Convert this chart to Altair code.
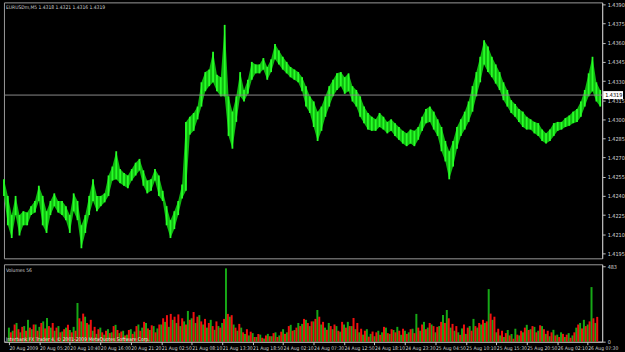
import altair as alt
import pandas as pd

# ---- data (EURUSDm, M5) ----
high = [1.4253, 1.4240, 1.4225, 1.4240, 1.4225, 1.4228, 1.4227, 1.4232, 1.4236, 1.4248,
        1.4240, 1.4228, 1.4236, 1.4242, 1.4236, 1.4236, 1.4232, 1.4225, 1.4242, 1.4236,
        1.4217, 1.4225, 1.4240, 1.4253, 1.4240, 1.4240, 1.4242, 1.4256, 1.4263, 1.4275,
        1.4261, 1.4258, 1.4256, 1.4261, 1.4266, 1.4269, 1.4260, 1.4252, 1.4253, 1.4261,
        1.4256, 1.4244, 1.4232, 1.4221, 1.4228, 1.4236, 1.4249, 1.4298, 1.4302, 1.4305,
        1.4310, 1.4329, 1.4337, 1.4339, 1.4353, 1.4335, 1.4333, 1.4374, 1.4318, 1.4306,
        1.4318, 1.4337, 1.4323, 1.4331, 1.4345, 1.4343, 1.4343, 1.4348, 1.4341, 1.4347,
        1.4359, 1.4354, 1.4349, 1.4345, 1.4341, 1.4339, 1.4337, 1.4333, 1.4326, 1.4318,
        1.4314, 1.4306, 1.4310, 1.4318, 1.4326, 1.4331, 1.4336, 1.4337, 1.4333, 1.4336,
        1.4326, 1.4323, 1.4318, 1.4310, 1.4305, 1.4302, 1.4300, 1.4305, 1.4302, 1.4298,
        1.4300, 1.4297, 1.4294, 1.4291, 1.4289, 1.4292, 1.4291, 1.4294, 1.4302, 1.4308,
        1.4310, 1.4306, 1.4300, 1.4294, 1.4283, 1.4275, 1.4283, 1.4294, 1.4300, 1.4306,
        1.4314, 1.4326, 1.4337, 1.4349, 1.4362, 1.4357, 1.4349, 1.4343, 1.4337, 1.4329,
        1.4323, 1.4315, 1.4312, 1.4308, 1.4306, 1.4302, 1.4300, 1.4298, 1.4297, 1.4292,
        1.4289, 1.4292, 1.4297, 1.4298, 1.4298, 1.4301, 1.4303, 1.4306, 1.4308, 1.4314,
        1.4323, 1.4336, 1.4349, 1.4329, 1.4323]
low = [1.4240, 1.4217, 1.4207, 1.4225, 1.4209, 1.4217, 1.4217, 1.4225, 1.4227, 1.4236,
       1.4217, 1.4211, 1.4225, 1.4232, 1.4227, 1.4225, 1.4221, 1.4211, 1.4228, 1.4221,
       1.4199, 1.4211, 1.4225, 1.4236, 1.4228, 1.4232, 1.4235, 1.4240, 1.4252, 1.4253,
       1.4250, 1.4248, 1.4246, 1.4252, 1.4256, 1.4260, 1.4248, 1.4242, 1.4244, 1.4252,
       1.4240, 1.4236, 1.4217, 1.4207, 1.4214, 1.4225, 1.4238, 1.4244, 1.4288, 1.4291,
       1.4300, 1.4310, 1.4322, 1.4326, 1.4329, 1.4322, 1.4318, 1.4318, 1.4287, 1.4277,
       1.4298, 1.4318, 1.4314, 1.4320, 1.4331, 1.4336, 1.4336, 1.4339, 1.4331, 1.4337,
       1.4347, 1.4343, 1.4339, 1.4336, 1.4333, 1.4331, 1.4329, 1.4322, 1.4310, 1.4305,
       1.4294, 1.4283, 1.4291, 1.4302, 1.4310, 1.4318, 1.4323, 1.4326, 1.4320, 1.4322,
       1.4314, 1.4310, 1.4302, 1.4297, 1.4292, 1.4291, 1.4291, 1.4294, 1.4292, 1.4289,
       1.4291, 1.4287, 1.4284, 1.4281, 1.4279, 1.4281, 1.4279, 1.4284, 1.4291, 1.4297,
       1.4298, 1.4292, 1.4287, 1.4275, 1.4267, 1.4253, 1.4263, 1.4277, 1.4287, 1.4292,
       1.4298, 1.4306, 1.4318, 1.4329, 1.4343, 1.4337, 1.4333, 1.4328, 1.4323, 1.4315,
       1.4310, 1.4305, 1.4302, 1.4298, 1.4294, 1.4292, 1.4292, 1.4289, 1.4287, 1.4283,
       1.4281, 1.4283, 1.4287, 1.4291, 1.4292, 1.4294, 1.4295, 1.4297, 1.4298, 1.4302,
       1.4310, 1.4318, 1.4322, 1.4314, 1.4310]
vol_up = [90, 70, 120, 60, 100, 140, 80, 110, 95, 130, 152, 90, 70, 100, 65, 90, 75, 95, 248, 130,
          160, 110, 70, 50, 90, 45, 80, 60, 108, 55, 70, 45, 80, 65, 110, 90, 120, 75, 100, 85,
          110, 127, 95, 140, 120, 100, 130, 197, 150, 120, 170, 110, 90, 140, 76, 100, 120, 470, 160, 110,
          70, 90, 50, 40, 55, 30, 45, 20, 50, 35, 60, 40, 80, 60, 108, 75, 120, 114, 140, 100,
          130, 203, 110, 90, 120, 80, 100, 64, 110, 127, 100, 80, 60, 45, 80, 50, 35, 70, 60, 90,
          50, 75, 95, 44, 70, 60, 83, 178, 70, 127, 90, 110, 60, 100, 171, 203, 90, 70, 60, 85,
          50, 100, 146, 90, 110, 120, 337, 140, 60, 40, 30, 75, 50, 83, 40, 60, 108, 80, 95, 70,
          100, 50, 35, 76, 45, 60, 30, 55, 40, 90, 120, 140, 110, 350, 120]
vol_down = [60, 110, 80, 95, 70, 90, 110, 70, 120, 85, 100, 120, 90, 60, 80, 108, 60, 70, 150, 180,
            120, 140, 95, 80, 60, 70, 55, 100, 75, 65, 40, 75, 50, 100, 70, 127, 85, 105, 60, 110,
            150, 170, 178, 160, 175, 150, 110, 140, 190, 160, 130, 146, 120, 100, 130, 90, 146, 178, 170, 90,
            114, 60, 80, 64, 30, 50, 25, 40, 35, 55, 30, 64, 50, 100, 70, 90, 100, 146, 120, 130,
            146, 160, 127, 76, 100, 110, 70, 127, 90, 100, 152, 120, 83, 70, 32, 65, 60, 44, 95, 55,
            80, 60, 70, 83, 50, 80, 55, 90, 110, 80, 120, 100, 95, 127, 120, 150, 114, 100, 44, 110,
            90, 70, 100, 120, 140, 130, 180, 160, 83, 70, 55, 40, 19, 45, 70, 90, 75, 100, 60, 105,
            80, 70, 60, 40, 30, 50, 45, 25, 60, 110, 85, 100, 130, 150, 159]
time_labels = ["20 Aug 2009", "20 Aug 05:20", "20 Aug 10:40", "20 Aug 16:00", "20 Aug 21:20",
               "21 Aug 02:50", "21 Aug 08:10", "21 Aug 13:30", "21 Aug 18:50", "24 Aug 02:10",
               "24 Aug 07:30", "24 Aug 12:50", "24 Aug 18:10", "24 Aug 23:30", "25 Aug 04:50",
               "25 Aug 10:10", "25 Aug 15:30", "25 Aug 20:50", "26 Aug 02:10", "26 Aug 07:30"]
price_ticks = [1.4195, 1.4210, 1.4225, 1.4240, 1.4255, 1.4270, 1.4285, 1.4300, 1.4315,
               1.4330, 1.4345, 1.4360, 1.4375, 1.4390]
vol_ticks = [0, 483]
last_price = 1.4319
header = "EURUSDm,M5  1.4318 1.4321 1.4316 1.4319"
vol_title = "Volumes 56"
copyright_text = "Interbank FX Trader 4, \u00a9 2001-2009 MetaQuotes Software Corp."

BARS_PER_SLOT = 8
LABEL_STEP = 64
N_BARS = 1236

# ---- tables ----
price_df = pd.DataFrame({"bar": [i * BARS_PER_SLOT for i in range(len(high))],
                         "high": high, "low": low})
vol_df = pd.DataFrame({
    "bar": [i * BARS_PER_SLOT for i in range(len(vol_up))] +
           [i * BARS_PER_SLOT + BARS_PER_SLOT // 2 for i in range(len(vol_down))],
    "vol": vol_up + vol_down,
    "dir": ["up"] * len(vol_up) + ["down"] * len(vol_down),
})

FONT = "DejaVu Sans Condensed, Liberation Sans Narrow, DejaVu Sans, sans-serif"
FS = 5.5
FS_SMALL = 5
PLOT_W = 603
xscale = alt.Scale(domain=[0, N_BARS], nice=False, zero=False)
pscale = alt.Scale(domain=[1.41911, 1.43916], nice=False, zero=False)
vscale = alt.Scale(domain=[0, 496], nice=False, zero=True)

PAXIS = alt.Axis(orient="right", values=price_ticks, format=".4f", tickSize=3,
                 labelPadding=2, labelFontSize=FS, labelFont=FONT,
                 labelOverlap=False, grid=False, title=None)


def py(field):
    return alt.Y(field, scale=pscale, axis=PAXIS, title=None)


price_area = alt.Chart(price_df).mark_area(color="#10b810", opacity=1,
                                           interpolate="linear").encode(
    x=alt.X("bar:Q", scale=xscale, axis=None),
    y=py("high:Q"),
    y2="low:Q",
)
price_rules = alt.Chart(price_df).mark_rule(strokeWidth=1.8, color="#28ff28").encode(
    x=alt.X("bar:Q", scale=xscale, axis=None),
    y=py("high:Q"),
    y2="low:Q",
)

last_df = pd.DataFrame({"p": [last_price], "t": [f"{last_price:.4f}"]})
last_line = alt.Chart(last_df).mark_rule(color="#8a8a8a", strokeWidth=1).encode(
    y=py("p:Q")
)
box_path = "M-1,-0.4 L1,-0.4 L1,0.4 L-1,0.4 Z"
last_box = alt.Chart(last_df).mark_point(shape=box_path, filled=True, color="white",
                                         opacity=1, size=400, strokeWidth=0).encode(
    x=alt.value(PLOT_W + 11), y=py("p:Q")
)
last_txt = alt.Chart(last_df).mark_text(align="left", baseline="middle", fontSize=FS,
                                        font=FONT, color="black").encode(
    x=alt.value(PLOT_W + 3), y=py("p:Q"), text="t:N"
)
head_df = pd.DataFrame({"t": [header]})
head_txt = alt.Chart(head_df).mark_text(align="left", baseline="middle", fontSize=FS_SMALL,
                                        font=FONT, color="#d0d0d0").encode(
    x=alt.value(2), y=alt.value(5), text="t:N"
)

price_panel = alt.layer(price_area, price_rules, last_line, head_txt,
                        last_box, last_txt).properties(width=PLOT_W, height=258)

label_expr = "[" + ",".join(f"'{s}'" for s in time_labels) + "][round(datum.value/%d)]" % LABEL_STEP

vol_bars = alt.Chart(vol_df).mark_bar(size=2).encode(
    x=alt.X("bar:Q", scale=xscale, title=None,
            axis=alt.Axis(values=[i * LABEL_STEP for i in range(len(time_labels))],
                          labelExpr=label_expr, labelAlign="left", labelBaseline="top",
                          labelPadding=1, tickSize=3, labelFontSize=FS_SMALL, labelFont=FONT,
                          labelOverlap=False, labelFlush=False, grid=False)),
    y=alt.Y("vol:Q", scale=vscale, title=None,
            axis=alt.Axis(orient="right", values=vol_ticks, format="d", tickSize=3,
                          labelPadding=2, labelFontSize=FS, labelFont=FONT,
                          labelOverlap=False, grid=False)),
    color=alt.Color("dir:N", scale=alt.Scale(domain=["up", "down"],
                                             range=["#16a816", "#f01010"]), legend=None),
)
vt_df = pd.DataFrame({"t": [vol_title]})
vol_txt = alt.Chart(vt_df).mark_text(align="left", baseline="middle", fontSize=FS_SMALL,
                                     font=FONT, color="#d0d0d0").encode(
    x=alt.value(2), y=alt.value(6), text="t:N"
)
cp_df = pd.DataFrame({"t": [copyright_text]})
cp_txt = alt.Chart(cp_df).mark_text(align="left", baseline="middle", fontSize=FS_SMALL,
                                    font=FONT, color="#e8e8e8").encode(
    x=alt.value(2), y=alt.value(75), text="t:N"
)
vol_panel = alt.layer(vol_bars, vol_txt, cp_txt).properties(width=PLOT_W, height=78)

chart = alt.vconcat(price_panel, vol_panel, spacing=4).properties(
    background="black",
    padding={"left": 2, "top": 0, "right": 0, "bottom": 0},
    autosize=alt.AutoSizeParams(type="pad"),
).configure_view(
    stroke="#9a9a9a", strokeWidth=1, fill="black"
).configure_axis(
    domainColor="#c0c0c0", tickColor="#c0c0c0", labelColor="#d8d8d8", domainWidth=1
)

chart.save("out.html", embed_options={"renderer": "svg", "actions": False})
